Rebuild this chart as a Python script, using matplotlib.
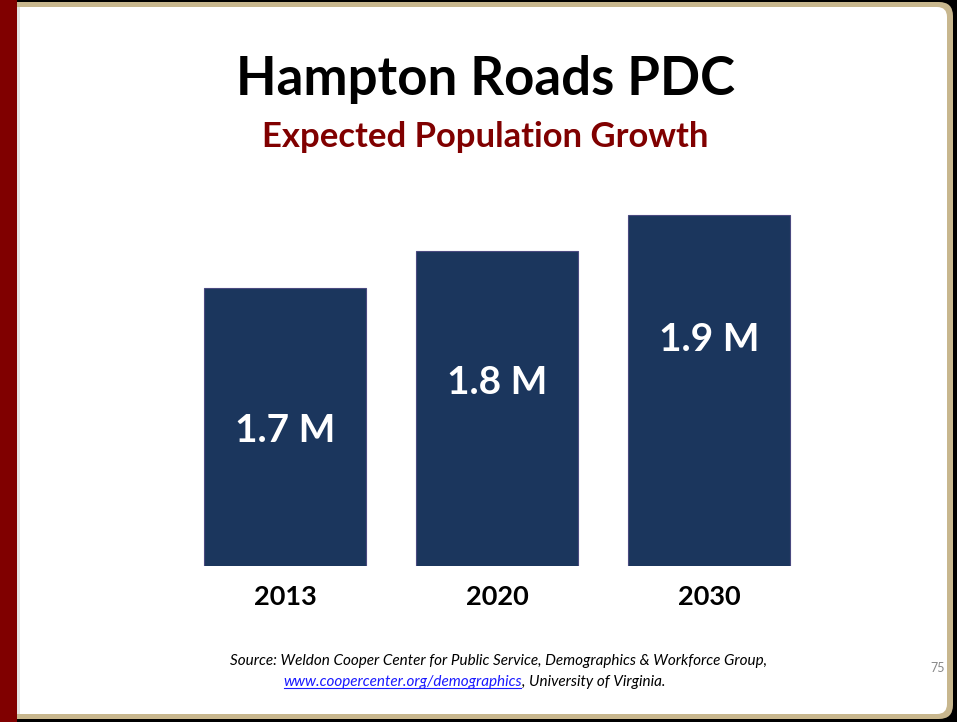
import matplotlib.pyplot as plt
from matplotlib.patches import FancyBboxPatch, Rectangle

years = ['2013', '2020', '2030']
population = [1.7, 1.8, 1.9]  # millions
labels = ['1.7 M', '1.8 M', '1.9 M']

bar_color = '#1b365d'
maroon = '#800000'
tan = '#c8b78e'

plt.rcParams['font.family'] = ['Lato', 'DejaVu Sans']

fig = plt.figure(figsize=(9.57, 7.22), dpi=100, facecolor='black')

# slide frame, drawn in pixel coordinates
bg = fig.add_axes([0, 0, 1, 1], zorder=0)
bg.set_xlim(0, 957)
bg.set_ylim(722, 0)
bg.axis('off')
bg.add_patch(FancyBboxPatch((0, 2), 953, 717, boxstyle='round,pad=0,rounding_size=14',
                            facecolor=tan, edgecolor='none'))
bg.add_patch(FancyBboxPatch((0, 7), 947, 707, boxstyle='round,pad=0,rounding_size=10',
                            facecolor='white', edgecolor='none'))
bg.add_patch(Rectangle((17, 7), 3, 707, facecolor='#e4e4e4', edgecolor='none'))
bg.add_patch(Rectangle((0, 0), 17, 722, facecolor=maroon, edgecolor='none'))

bg.text(486, 80, 'Hampton Roads PDC', ha='center', va='center',
        fontsize=38, fontweight='bold', color='black')
bg.text(485, 137, 'Expected Population Growth', ha='center', va='center',
        fontsize=24.9, fontweight='bold', color='#800000')
bg.text(499, 661, 'Source: Weldon Cooper Center for Public Service, Demographics & Workforce Group,',
        ha='center', va='center', fontsize=11, style='italic', color='black')
link = bg.text(283, 682, 'www.coopercenter.org/demographics', ha='left', va='center',
               fontsize=11, style='italic', color='#1a1aff')
bg.text(938, 668, '75', ha='center', va='center', fontsize=9, color='#888888')

# bars
ax = fig.add_axes([0.187, 0.2161, 0.6646, 0.5069], zorder=1)
x = range(len(years))
bars = ax.bar(x, population, width=0.76, color=bar_color, edgecolor='#4a4a80', linewidth=0.8)
ax.set_xlim(-0.5, 2.5)
ax.set_ylim(0.938, 1.941)
ax.patch.set_alpha(0)
for s in ax.spines.values():
    s.set_visible(False)
ax.set_yticks([])
ax.set_xticks(list(x))
ax.set_xticklabels(years, fontsize=19.5, fontweight='bold')
ax.tick_params(axis='x', length=0, pad=14)

label_y = [1.31, 1.44, 1.56]
for xi, yv, txt in zip(x, label_y, labels):
    ax.text(xi, yv, txt, ha='center', va='center', color='white',
            fontsize=28, fontweight='bold')

# underline the link and append the rest of the source line
fig.canvas.draw()
r = fig.canvas.get_renderer()
bb = link.get_window_extent(r)
inv = bg.transData.inverted()
(x0, y0), (x1, y1) = inv.transform([[bb.x0, bb.y0], [bb.x1, bb.y1]])
bg.plot([x0 + 1, x1 - 1], [y0 - 1, y0 - 1], color='#1a1aff', linewidth=0.8)
bg.text(x1, 682, ', University of Virginia.', ha='left', va='center',
        fontsize=11, style='italic', color='black')

fig.savefig('out.png', dpi=100, facecolor=fig.get_facecolor())
